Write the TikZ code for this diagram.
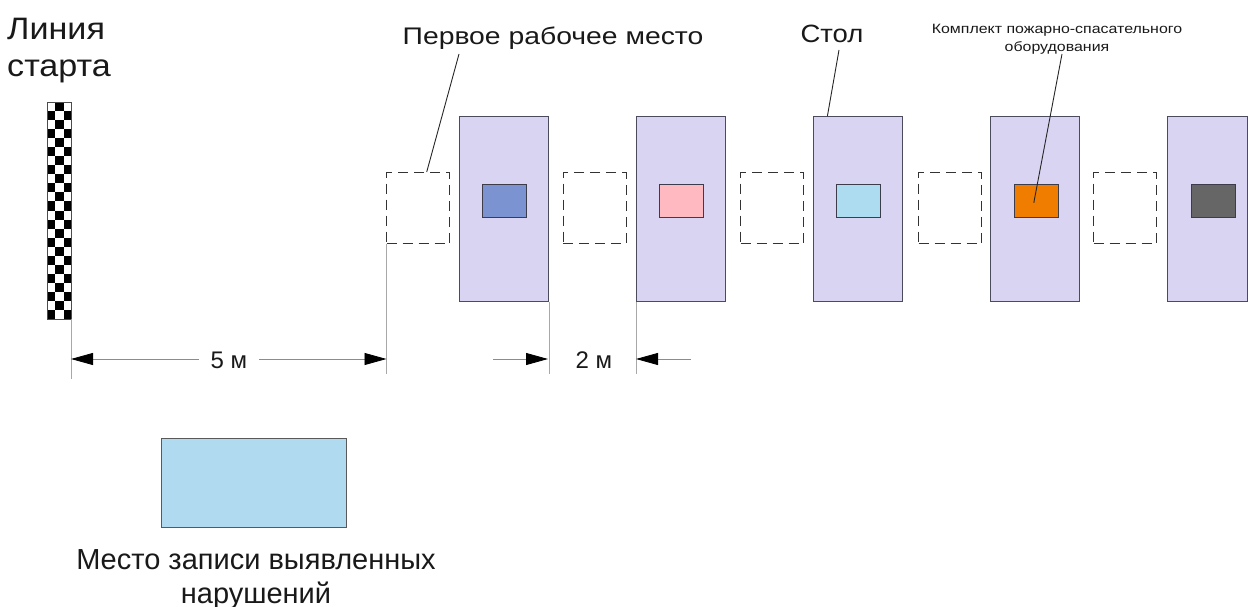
\documentclass[tikz,border=0pt]{standalone}
\usepackage{fontspec}
\setmainfont{Liberation Sans}
\newfontfamily\widea[FakeStretch=1.1]{Liberation Sans}
\newfontfamily\wideb[FakeStretch=1.18]{Liberation Sans}
\usetikzlibrary{arrows.meta,calc}
\definecolor{tablefill}{HTML}{D8D4F1}
\definecolor{tableedge}{HTML}{4B4B5E}
\definecolor{kitblue}{HTML}{7B93D1}
\definecolor{kitpink}{HTML}{FFB9C0}
\definecolor{kitcyan}{HTML}{ADDCF0}
\definecolor{kitorange}{HTML}{F07C00}
\definecolor{kitgray}{HTML}{666666}
\definecolor{recfill}{HTML}{AFDAF0}
\definecolor{extgray}{HTML}{A8A8A8}
\definecolor{dimgray}{HTML}{8C8C8C}
\begin{document}
\begin{tikzpicture}[x=1pt,y=-1pt,
  tablebox/.style={draw=tableedge,fill=tablefill,line width=1.1pt,anchor=north west,inner sep=0pt,minimum width=89pt,minimum height=185pt},
  kit/.style={draw=tableedge!80!black,line width=1.1pt,inner sep=0pt,minimum width=44pt,minimum height=33pt},
  seat/.style={draw=black!80,dash pattern=on 10pt off 6pt,line width=1.1pt,anchor=north west,inner sep=0pt,minimum width=63pt,minimum height=71pt},
  leader/.style={draw=black!85,line width=0.9pt},
  extline/.style={draw=extgray,line width=0.9pt},
  dimline/.style={draw=dimgray,line width=0.8pt},
  tip/.style={-{Triangle[length=22pt,width=12pt,color=black]}},
  label/.style={inner sep=0pt,text=black!90},
]
\fill[white] (0,0) rectangle (1248,607);
\useasboundingbox (0,0) rectangle (1248,607);
\clip (0,0) rectangle (1248,607);

% start line (checkered flag): columns 7.5 / 9 / 7.5, 24 rows
\node[anchor=north west,inner sep=0pt,minimum width=24pt,minimum height=217pt] (flag) at (47,102) {};
\foreach \r in {0,...,23}{
  \pgfmathsetmacro{\ya}{102+9.0417*\r}
  \pgfmathsetmacro{\yb}{102+9.0417*(\r+1)}
  \pgfmathtruncatemacro{\odd}{mod(\r,2)}
  \ifnum\odd=0
    \fill[black] (54.5,\ya) rectangle (63.5,\yb);
  \else
    \fill[black] (47,\ya) rectangle (54.5,\yb);
    \fill[black] (63.5,\ya) rectangle (71,\yb);
  \fi
}
\draw[black!70,line width=0.6pt] (flag.north west) rectangle (flag.south east);

\node[label,anchor=north west,align=left,font=\widea\fontsize{31}{37}\selectfont] (startlbl) at (7,18) {Линия\\старта};

% tables with kits
\node[tablebox] (t1) at (459,116) {};
\node[tablebox] (t2) at (636,116) {};
\node[tablebox] (t3) at (813,116) {};
\node[tablebox] (t4) at (990,116) {};
\node[tablebox,minimum width=80pt] (t5) at (1167,116) {};
\node[kit,fill=kitblue] (k1) at ([yshift=8pt]t1.center) {};
\node[kit,fill=kitpink] (k2) at ([yshift=8pt]t2.center) {};
\node[kit,fill=kitcyan] (k3) at ([yshift=8pt]t3.center) {};
\node[kit,fill=kitorange] (k4) at ([xshift=1pt,yshift=8pt]t4.center) {};
\node[kit,fill=kitgray] (k5) at ([xshift=6pt,yshift=8pt]t5.center) {};

% work places (dashed)
\node[seat] (s1) at (386,172) {};
\node[seat] (s2) at (562.5,172) {};
\node[seat] (s3) at (740,172) {};
\node[seat] (s4) at (918,172) {};
\node[seat] (s5) at (1093,172) {};

% labels
\node[label,anchor=base,font=\wideb\fontsize{24}{28}\selectfont] (firstlbl) at (553,45) {Первое рабочее место};
\node[label,anchor=base,font=\widea\fontsize{25}{29}\selectfont] (tablelbl) at (832,43) {Стол};
\node[label,anchor=north,align=center,font=\wideb\fontsize{13.5}{18.5}\selectfont] (kitlbl) at (1057,24) {Комплект пожарно-спасательного\\оборудования};

\coordinate (p1) at (459,54);
\coordinate (p2) at (839,50);
\coordinate (p3) at (1062,54);
\draw[leader] (p1) -- ($(s1.north west)!0.635!(s1.north east)$);
\draw[leader] (p2) -- ($(t3.north west)!0.16!(t3.north east)$);
\draw[leader] (p3) -- ($(k4.south west)!0.45!(k4.north east)$);

% extension lines
\draw[extline] (flag.south east) -- ++(0,60);
\draw[extline] (s1.south west) -- ++(0,130);
\draw[extline] (t1.south east) -- ++(0,72);
\draw[extline] (t2.south west) -- ++(0,72);

% 5 m
\node[label,inner xsep=12pt,font=\fontsize{24}{28}\selectfont] (five) at (229,360) {5 м};
\coordinate (a1) at (71,359);
\coordinate (a2) at (386.5,359);
\draw[dimline,tip] (five.west |- a1) -- (a1);
\draw[dimline,tip] (five.east |- a2) -- (a2);

% 2 m
\node[label,font=\fontsize{24}{28}\selectfont] (two) at (594,360) {2 м};
\coordinate (b1) at (493,359);
\coordinate (b2) at (548,359);
\coordinate (b3) at (691,359);
\coordinate (b4) at (636,359);
\draw[dimline,tip] (b1) -- (b2);
\draw[dimline,tip] (b3) -- (b4);

% record place
\node[draw=black!65,fill=recfill,line width=1.1pt,anchor=north west,inner sep=0pt,minimum width=185pt,minimum height=89pt] (rec) at (161,438) {};
\node[label,anchor=north,align=center,font=\fontsize{29}{34}\selectfont] (reclbl) at (256,549) {Место записи выявленных\\нарушений};
\end{tikzpicture}
\end{document}
